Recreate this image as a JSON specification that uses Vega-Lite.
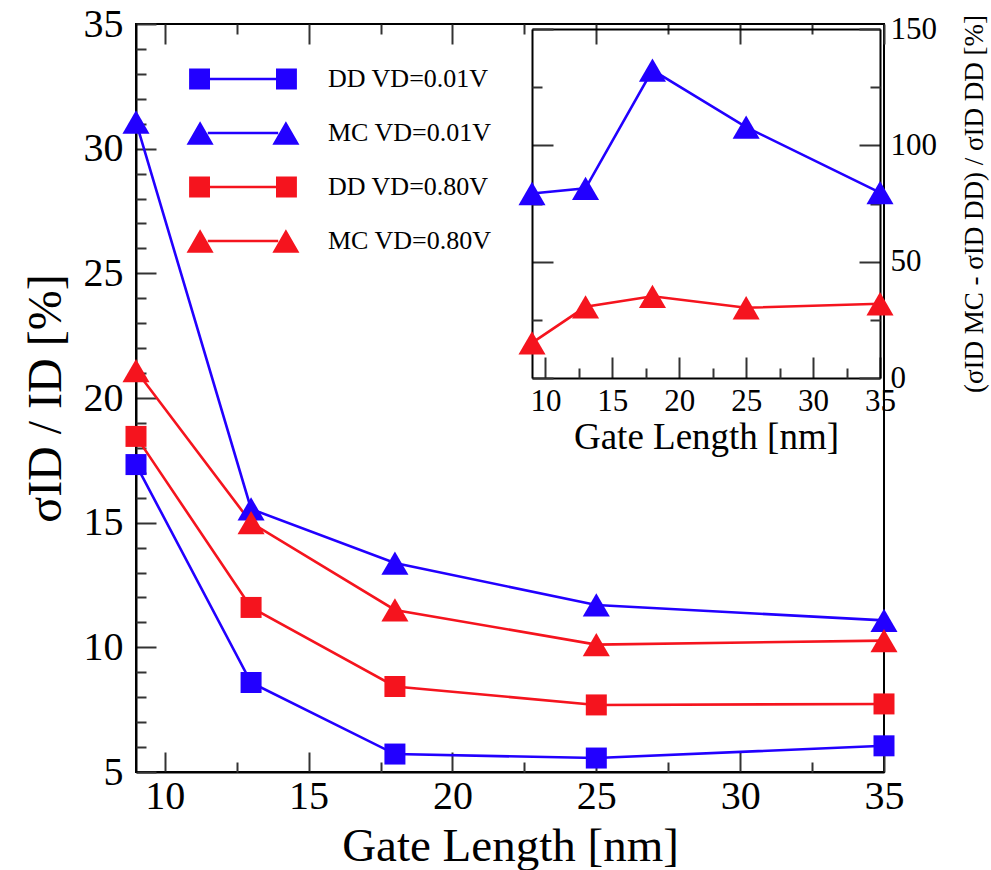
{
  "$schema": "https://vega.github.io/schema/vega-lite/v6.json",
  "width": 748,
  "height": 748,
  "autosize": "none",
  "padding": {"left": 136, "top": 24, "right": 107, "bottom": 98},
  "background": "white",
  "config": {
    "view": {"stroke": "#000000", "strokeWidth": 2},
    "font": "Liberation Serif",
    "axis": {
      "grid": false,
      "domainColor": "#000000",
      "domainWidth": 2,
      "tickColor": "#333333",
      "tickWidth": 2,
      "labelColor": "#000000",
      "titleColor": "#000000",
      "labelFont": "Liberation Serif",
      "titleFont": "Liberation Serif",
      "titleFontWeight": "normal",
      "labelFlush": false,
      "labelOverlap": false,
      "labelBound": false
    }
  },
  "datasets": {
    "main": [
      {"L": 9, "val": 17.33, "series": "DD VD=0.01V"},
      {"L": 13, "val": 8.59, "series": "DD VD=0.01V"},
      {"L": 18, "val": 5.72, "series": "DD VD=0.01V"},
      {"L": 25, "val": 5.56, "series": "DD VD=0.01V"},
      {"L": 35, "val": 6.05, "series": "DD VD=0.01V"},
      {"L": 9, "val": 31.07, "series": "MC VD=0.01V"},
      {"L": 13, "val": 15.55, "series": "MC VD=0.01V"},
      {"L": 18, "val": 13.38, "series": "MC VD=0.01V"},
      {"L": 25, "val": 11.7, "series": "MC VD=0.01V"},
      {"L": 35, "val": 11.08, "series": "MC VD=0.01V"},
      {"L": 9, "val": 18.46, "series": "DD VD=0.80V"},
      {"L": 13, "val": 11.6, "series": "DD VD=0.80V"},
      {"L": 18, "val": 8.43, "series": "DD VD=0.80V"},
      {"L": 25, "val": 7.69, "series": "DD VD=0.80V"},
      {"L": 35, "val": 7.73, "series": "DD VD=0.80V"},
      {"L": 9, "val": 21.1, "series": "MC VD=0.80V"},
      {"L": 13, "val": 15.0, "series": "MC VD=0.80V"},
      {"L": 18, "val": 11.5, "series": "MC VD=0.80V"},
      {"L": 25, "val": 10.11, "series": "MC VD=0.80V"},
      {"L": 35, "val": 10.27, "series": "MC VD=0.80V"}
    ],
    "inset": [
      {"L": 9, "diff": 79.3, "vd": "0.01V"},
      {"L": 13, "diff": 81.5, "vd": "0.01V"},
      {"L": 18, "diff": 132.3, "vd": "0.01V"},
      {"L": 25, "diff": 107.8, "vd": "0.01V"},
      {"L": 35, "diff": 79.7, "vd": "0.01V"},
      {"L": 9, "diff": 15.1, "vd": "0.80V"},
      {"L": 13, "diff": 30.6, "vd": "0.80V"},
      {"L": 18, "diff": 35.1, "vd": "0.80V"},
      {"L": 25, "diff": 30.2, "vd": "0.80V"},
      {"L": 35, "diff": 31.9, "vd": "0.80V"}
    ]
  },
  "layer": [
    {
      "data": {"name": "main"},
      "encoding": {
        "x": {
          "field": "L", "type": "quantitative",
          "scale": {"domain": [9, 35], "nice": false, "zero": false},
          "axis": {
            "orient": "bottom",
            "values": [10, 15, 20, 25, 30, 35],
            "tickSize": -20,
            "labelFontSize": 40,
            "labelPadding": 24,
            "title": "Gate Length [nm]",
            "titleFontSize": 47,
            "titleX": 374,
            "titleY": 88,
            "titleBaseline": "alphabetic",
            "titleAlign": "center"
          }
        },
        "y": {
          "field": "val", "type": "quantitative",
          "scale": {"domain": [5, 35], "nice": false, "zero": false},
          "axis": {
            "orient": "left",
            "values": [5, 10, 15, 20, 25, 30, 35],
            "tickSize": -20,
            "labelFontSize": 40,
            "labelPadding": 33,
            "labelBaseline": "middle",
            "title": "σID / ID [%]",
            "titleFontSize": 48,
            "titleX": -76,
            "titleY": 374,
            "titleAngle": -90,
            "titleBaseline": "alphabetic",
            "titleAlign": "center"
          }
        },
        "color": {
          "field": "series", "type": "nominal",
          "scale": {
            "domain": ["DD VD=0.01V", "MC VD=0.01V", "DD VD=0.80V", "MC VD=0.80V"],
            "range": ["#2200ff", "#2200ff", "#f5141e", "#f5141e"]
          },
          "legend": null
        },
        "shape": {
          "field": "series", "type": "nominal",
          "scale": {
            "domain": ["DD VD=0.01V", "MC VD=0.01V", "DD VD=0.80V", "MC VD=0.80V"],
            "range": ["square", "M-1.29,1.11L0,-1.11L1.29,1.11Z", "square", "M-1.29,1.11L0,-1.11L1.29,1.11Z"]
          },
          "legend": null
        }
      },
      "layer": [
        {"mark": {"type": "line", "strokeWidth": 2.6}},
        {"mark": {"type": "point", "filled": true, "opacity": 1, "size": 441}}
      ]
    },
    {
      "data": {"name": "main"},
      "mark": {"type": "point", "opacity": 0},
      "encoding": {
        "x": {
          "field": "L", "type": "quantitative",
          "scale": {"domain": [9, 35], "nice": false, "zero": false},
          "axis": {"orient": "bottom", "values": [12.5, 17.5, 22.5, 27.5, 32.5], "tickSize": -10, "labels": false, "domain": false, "title": null}
        },
        "y": {
          "field": "val", "type": "quantitative",
          "scale": {"domain": [5, 35], "nice": false, "zero": false},
          "axis": {"orient": "left", "values": [6, 7, 8, 9, 11, 12, 13, 14, 16, 17, 18, 19, 21, 22, 23, 24, 26, 27, 28, 29, 31, 32, 33, 34], "tickSize": -10, "labels": false, "domain": false, "title": null}
        }
      }
    },
    {
      "data": {"name": "main"},
      "mark": {"type": "point", "opacity": 0},
      "encoding": {
        "x": {
          "field": "L", "type": "quantitative",
          "scale": {"domain": [9, 35], "nice": false, "zero": false},
          "axis": {"orient": "top", "values": [10, 15, 20, 25, 30, 35], "tickSize": -20, "labels": false, "domain": false, "title": null}
        },
        "y": {
          "field": "val", "type": "quantitative",
          "scale": {"domain": [5, 35], "nice": false, "zero": false},
          "axis": null
        }
      }
    },
    {
      "data": {"name": "main"},
      "mark": {"type": "point", "opacity": 0},
      "encoding": {
        "x": {
          "field": "L", "type": "quantitative",
          "scale": {"domain": [9, 35], "nice": false, "zero": false},
          "axis": {"orient": "top", "values": [12.5, 17.5, 22.5, 27.5, 32.5], "tickSize": -10, "labels": false, "domain": false, "title": null}
        },
        "y": {
          "field": "val", "type": "quantitative",
          "scale": {"domain": [5, 35], "nice": false, "zero": false},
          "axis": null
        }
      }
    },
    {
      "data": {"name": "inset"},
      "encoding": {
        "x": {
          "field": "L", "type": "quantitative",
          "scale": {"domain": [9, 35], "range": [396, 744], "nice": false, "zero": false},
          "axis": {
            "orient": "bottom",
            "offset": -394,
            "values": [10, 15, 20, 25, 30, 35],
            "tickSize": -21,
            "labelFontSize": 31,
            "labelPadding": 29,
            "title": "Gate Length [nm]",
            "titleFontSize": 37,
            "titleX": 570,
            "titleY": 70,
            "titleBaseline": "alphabetic",
            "titleAlign": "center"
          }
        },
        "y": {
          "field": "diff", "type": "quantitative",
          "scale": {"domain": [0, 150], "range": [354, 5], "nice": false, "zero": false},
          "axis": {
            "orient": "right",
            "offset": -4,
            "values": [0, 50, 100, 150],
            "tickSize": -21,
            "labelFontSize": 31,
            "labelPadding": 31,
            "labelAlign": "left",
            "labelBaseline": "middle",
            "title": "(σID MC - σID DD) / σID DD [%]",
            "titleFontSize": 27,
            "titleAngle": 270,
            "titleX": 102,
            "titleY": 179.5,
            "titleBaseline": "alphabetic",
            "titleAlign": "center"
          }
        },
        "color": {
          "field": "vd", "type": "nominal",
          "scale": {"domain": ["0.01V", "0.80V"], "range": ["#2200ff", "#f5141e"]},
          "legend": null
        }
      },
      "layer": [
        {"mark": {"type": "line", "strokeWidth": 2.6}},
        {"mark": {"type": "point", "filled": true, "opacity": 1, "size": 441, "shape": "M-1.29,1.11L0,-1.11L1.29,1.11Z"}}
      ]
    },
    {
      "data": {"name": "inset"},
      "mark": {"type": "point", "opacity": 0},
      "encoding": {
        "x": {
          "field": "L", "type": "quantitative",
          "scale": {"domain": [9, 35], "range": [396, 744], "nice": false, "zero": false},
          "axis": {"orient": "bottom", "offset": -394, "values": [12.5, 17.5, 22.5, 27.5, 32.5], "tickSize": -10, "labels": false, "domain": false, "title": null}
        },
        "y": {
          "field": "diff", "type": "quantitative",
          "scale": {"domain": [0, 150], "range": [354, 5], "nice": false, "zero": false},
          "axis": {"orient": "right", "offset": -4, "values": [25, 75, 125], "tickSize": -10, "labels": false, "domain": false, "title": null}
        }
      }
    },
    {
      "data": {"name": "inset"},
      "mark": {"type": "point", "opacity": 0},
      "encoding": {
        "x": {
          "field": "L", "type": "quantitative",
          "scale": {"domain": [9, 35], "range": [396, 744], "nice": false, "zero": false},
          "axis": {"orient": "top", "offset": -5, "ticks": false, "labels": false, "title": null}
        },
        "y": {
          "field": "diff", "type": "quantitative",
          "scale": {"domain": [0, 150], "range": [354, 5], "nice": false, "zero": false},
          "axis": {"orient": "left", "offset": -396, "values": [0, 50, 100, 150], "tickSize": -21, "labels": false, "title": null}
        }
      }
    },
    {
      "data": {"name": "inset"},
      "mark": {"type": "point", "opacity": 0},
      "encoding": {
        "x": {
          "field": "L", "type": "quantitative",
          "scale": {"domain": [9, 35], "range": [396, 744], "nice": false, "zero": false},
          "axis": null
        },
        "y": {
          "field": "diff", "type": "quantitative",
          "scale": {"domain": [0, 150], "range": [354, 5], "nice": false, "zero": false},
          "axis": {"orient": "left", "offset": -396, "values": [25, 75, 125], "tickSize": -10, "labels": false, "domain": false, "title": null}
        }
      }
    },
    {
      "data": {"name": "main"},
      "transform": [{"filter": "false"}],
      "mark": {"type": "point", "filled": true, "opacity": 1},
      "encoding": {
        "color": {
          "field": "series", "type": "nominal",
          "scale": {
            "domain": ["DD VD=0.01V", "MC VD=0.01V", "DD VD=0.80V", "MC VD=0.80V"],
            "range": ["#2200ff", "#2200ff", "#f5141e", "#f5141e"]
          },
          "legend": {
            "title": null,
            "orient": "none",
            "legendX": 51,
            "legendY": 42,
            "padding": 0,
            "labelFont": "Liberation Serif",
            "labelFontSize": 26,
            "labelLimit": 400,
            "labelColor": "#000000",
            "symbolSize": 484,
            "symbolOffset": 43,
            "labelOffset": 72,
            "rowPadding": 28,
            "symbolStrokeWidth": 0,
            "symbolOpacity": 1
          }
        },
        "shape": {
          "field": "series", "type": "nominal",
          "scale": {
            "domain": ["DD VD=0.01V", "MC VD=0.01V", "DD VD=0.80V", "MC VD=0.80V"],
            "range": [
              "M-4.9,-0.95H-3V0.95H-4.9Z M3,-0.95H4.9V0.95H3Z M-3,-0.11H3V0.11H-3Z",
              "M-5.13,1.06L-3.9,-1.06L-2.67,1.06Z M2.67,1.06L3.9,-1.06L5.13,1.06Z M-3.2,-0.11H3.2V0.11H-3.2Z",
              "M-4.9,-0.95H-3V0.95H-4.9Z M3,-0.95H4.9V0.95H3Z M-3,-0.11H3V0.11H-3Z",
              "M-5.13,1.06L-3.9,-1.06L-2.67,1.06Z M2.67,1.06L3.9,-1.06L5.13,1.06Z M-3.2,-0.11H3.2V0.11H-3.2Z"
            ]
          },
          "legend": {
            "title": null,
            "orient": "none",
            "legendX": 51,
            "legendY": 42,
            "padding": 0,
            "labelFont": "Liberation Serif",
            "labelFontSize": 26,
            "labelLimit": 400,
            "labelColor": "#000000",
            "symbolSize": 484,
            "symbolOffset": 43,
            "labelOffset": 72,
            "rowPadding": 28,
            "symbolStrokeWidth": 0,
            "symbolOpacity": 1
          }
        }
      }
    }
  ],
  "resolve": {
    "scale": {"x": "independent", "y": "independent", "color": "independent", "shape": "independent"},
    "axis": {"x": "independent", "y": "independent"}
  }
}
